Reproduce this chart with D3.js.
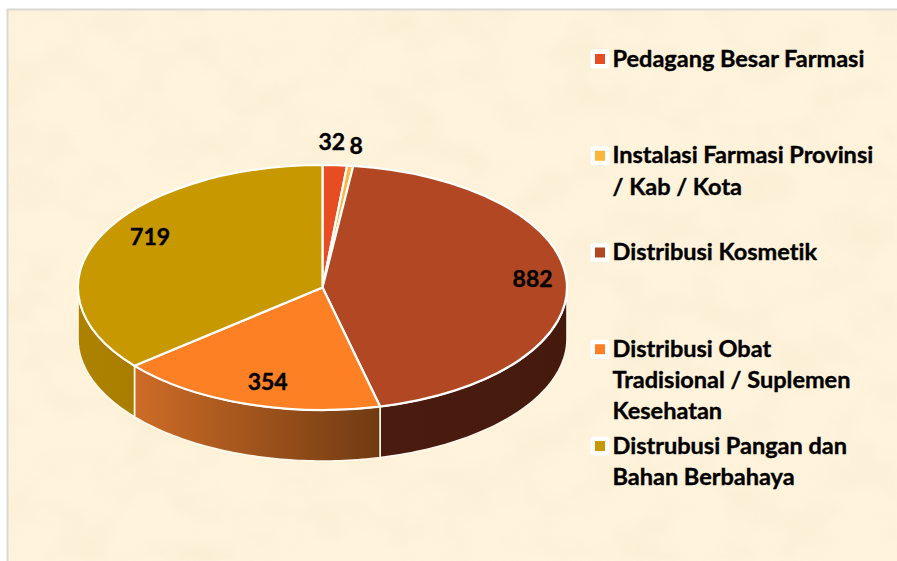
<!DOCTYPE html>
<html><head><meta charset="utf-8">
<style>html,body{margin:0;padding:0;background:#fff}svg{display:block}text{font-variant-ligatures:none}</style>
<script src="https://cdn.jsdelivr.net/npm/d3@7/dist/d3.min.js"></script>
</head><body><div id="c"></div>
<script>
const categories = ["Pedagang Besar Farmasi","Instalasi Farmasi Provinsi / Kab / Kota","Distribusi Kosmetik","Distribusi Obat Tradisional / Suplemen Kesehatan","Distrubusi Pangan dan Bahan Berbahaya"];
const values = [32,8,882,354,719];
const legendLines = [["Pedagang Besar Farmasi"],["Instalasi Farmasi Provinsi","/ Kab / Kota"],["Distribusi Kosmetik"],["Distribusi Obat","Tradisional / Suplemen","Kesehatan"],["Distrubusi Pangan dan","Bahan Berbahaya"]];
const colors = ["#E84C22","#FDB63B","#B24823","#FD8025","#C89800"];
const sideStops = [null,null,["#4A1C0F","#451A0D"],["#CE6C27","#703B12"],["#AE8200","#A87E00"]];
const labelNudge = [[-3,-24],[6,-21],[-34,-3],[22,-23],[49,1]];

const W=897,H=561,cx=322.5,cy=287.5,rx=244.5,ry=122.5,depth=51;
const FONT="Lato, Carlito, sans-serif";
const svg=d3.select("#c").append("svg").attr("width",W).attr("height",H);
const defs=svg.append("defs");

// page background and textured paper
svg.append("rect").attr("width",W).attr("height",H).attr("fill","#fff");
const f=defs.append("filter").attr("id","paper").attr("x",0).attr("y",0).attr("width","100%").attr("height","100%");
f.append("feTurbulence").attr("type","fractalNoise").attr("baseFrequency","0.018 0.024").attr("numOctaves",3).attr("seed",7).attr("result","n");
f.append("feColorMatrix").attr("in","n").attr("type","matrix")
 .attr("values","0 0 0 0 0.82  0 0 0 0 0.74  0 0 0 0 0.50  1.1 0 0 0 -0.42").attr("result","t");
f.append("feGaussianBlur").attr("in","t").attr("stdDeviation",2.5);
svg.append("rect").attr("x",7).attr("y",9).attr("width",W-7).attr("height",H-9).attr("fill","#FFF3DC");
svg.append("rect").attr("x",8).attr("y",10).attr("width",W-8).attr("height",H-10).attr("filter","url(#paper)").attr("opacity",.4);
svg.append("path").attr("d",`M7.5,${H}V9.5H${W}`).attr("fill","none").attr("stroke","#DAD8D2").attr("stroke-width",2);

// pie layout
const pie=d3.pie().sort(null).startAngle(0).endAngle(2*Math.PI);
const arcs=pie(values);
const px=d3.scaleLinear().domain([-1,1]).range([cx-rx,cx+rx]);
const py=d3.scaleLinear().domain([-1,1]).range([cy-ry,cy+ry]);
const ex=a=>px(Math.sin(a)), ey=a=>py(-Math.cos(a));
const PI=Math.PI;

// walls: visible only on the front half of the ellipse
arcs.forEach((d,i)=>{
  if(!sideStops[i]) return;
  const a0=Math.max(d.startAngle,PI/2), a1=Math.min(d.endAngle,3*PI/2);
  if(a1<=a0) return;
  const g=defs.append("linearGradient").attr("id","side"+i).attr("gradientUnits","userSpaceOnUse")
    .attr("x1",Math.min(ex(a0),ex(a1))).attr("x2",Math.max(ex(a0),ex(a1))).attr("y1",0).attr("y2",0);
  g.append("stop").attr("offset",0).attr("stop-color",sideStops[i][0]);
  g.append("stop").attr("offset",1).attr("stop-color",sideStops[i][1]);
  const t=d3.range(0,61).map(k=>a0+(a1-a0)*k/60);
  const pts=[...t.map(a=>[ex(a),ey(a)]),...t.slice().reverse().map(a=>[ex(a),ey(a)+depth])];
  svg.append("path").attr("d",d3.line()(pts)+"Z").attr("fill",`url(#side${i})`)
    .attr("stroke","#FFF8EC").attr("stroke-width",1.6).attr("stroke-linejoin","round");
});

// top faces: circular arcs squashed into the ellipse
const arcGen=d3.arc().innerRadius(0).outerRadius(rx);
svg.append("g").attr("transform",`translate(${cx},${cy}) scale(1,${ry/rx})`)
  .selectAll("path").data(arcs).join("path")
  .attr("d",arcGen).attr("fill",(d,i)=>colors[i])
  .attr("stroke","#fff").attr("stroke-width",2.2).attr("stroke-linejoin","round")
  .attr("vector-effect","non-scaling-stroke");

// value labels
svg.append("g").selectAll("text").data(arcs).join("text")
  .attr("x",(d,i)=>ex((d.startAngle+d.endAngle)/2)+labelNudge[i][0])
  .attr("y",(d,i)=>ey((d.startAngle+d.endAngle)/2)+labelNudge[i][1])
  .attr("text-anchor","middle").attr("dominant-baseline","central")
  .attr("font-family",FONT).attr("font-weight",700).attr("font-size",23).attr("fill","#000")
  .attr("stroke","#000").attr("stroke-width",.4)
  .text(d=>d.value);

// legend
const ly=d3.scalePoint().domain(categories).range([59,446]);
const lg=svg.append("g").selectAll("g").data(categories).join("g")
  .attr("transform",d=>`translate(600,${ly(d)})`);
lg.append("rect").attr("x",-9.5).attr("y",-9.5).attr("width",19).attr("height",19).attr("rx",2.5).attr("fill","#fff").attr("opacity",.95);
lg.append("rect").attr("x",-5).attr("y",-5).attr("width",10).attr("height",10).attr("fill",(d,i)=>colors[i]);
lg.append("text").attr("font-family",FONT).attr("font-weight",700).attr("font-size",23.5).attr("fill","#000")
  .attr("stroke","#000").attr("stroke-width",.4)
  .selectAll("tspan").data((d,i)=>legendLines[i]).join("tspan")
  .attr("x",12.5).attr("y",(d,i)=>7.5+i*31.3).text(d=>d);
</script></body></html>
